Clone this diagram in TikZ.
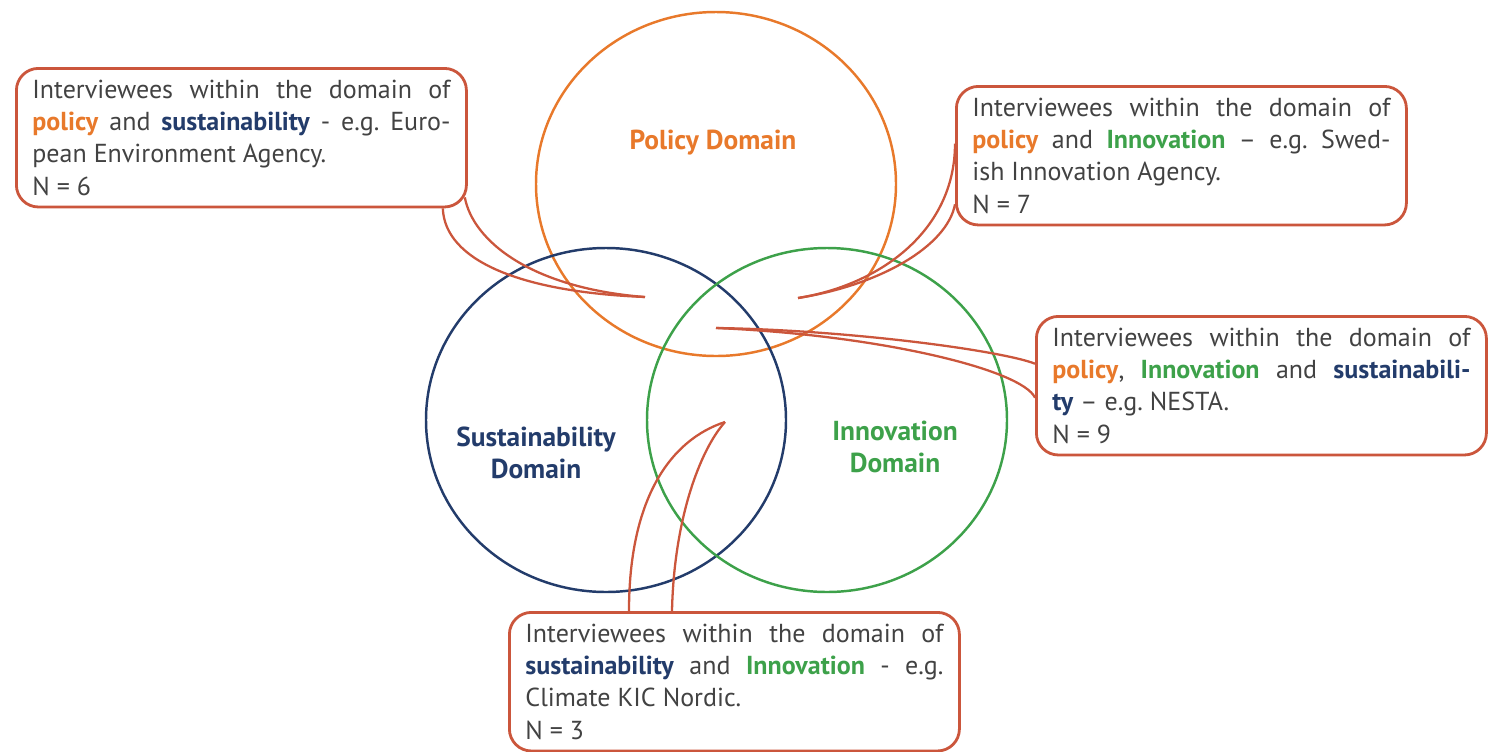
\documentclass[tikz,border=0pt]{standalone}
\usepackage{fontspec}
\setmainfont{PT Sans}
\usetikzlibrary{calc}
\frenchspacing

\definecolor{policyOrange}{RGB}{232,121,43}
\definecolor{sustNavy}{RGB}{35,60,107}
\definecolor{innovGreen}{RGB}{61,161,74}
\definecolor{calloutRed}{RGB}{203,86,60}
\definecolor{bodyGrey}{RGB}{66,66,66}

\newcommand{\polword}[1]{\textcolor{policyOrange}{\textbf{#1}}}
\newcommand{\susword}[1]{\textcolor{sustNavy}{\textbf{#1}}}
\newcommand{\innword}[1]{\textcolor{innovGreen}{\textbf{#1}}}

\tikzstyle{domainring}=[line width=1.4pt]
\tikzstyle{domainname}=[font=\fontsize{15.6}{18.2}\selectfont\bfseries, align=center]
\tikzstyle{callout}=[draw=calloutRed, line width=1.6pt, rounded corners=0.44cm, anchor=north west, text width=8.36cm, align=justify, inner xsep=0.32cm, inner ysep=6.5pt, text=bodyGrey, font=\fontsize{14.8}{18.4}\selectfont]
\tikzstyle{tail}=[draw=calloutRed, line width=1.3pt]

\begin{document}
\begin{tikzpicture}[x=0.2mm, y=-0.2mm]
	\useasboundingbox (0,0) rectangle (1498,751);

	% The three domains
	\draw[domainring, policyOrange] (716,184) ellipse [x radius=180, y radius=172];
	\draw[domainring, sustNavy]     (606,420) ellipse [x radius=180, y radius=172];
	\draw[domainring, innovGreen]   (827,420) ellipse [x radius=180, y radius=172];

	\node[domainname, text=policyOrange] (polName) at (713,143) {Policy Domain};
	\node[domainname, text=sustNavy]     (susName) at (536,453) {Sustainability\\Domain};
	\node[domainname, text=innovGreen]   (innName) at (895,447) {Innovation\\Domain};

	% Callouts
	\node[callout] (boxPS) at (15,67) {Interviewees within the domain of\linebreak
		\polword{policy} and \susword{sustainability} - e.g. Euro-\linebreak
		pean Environment Agency.\\ N = 6};
	\node[callout] (boxPI) at (955,85) {Interviewees within the domain of\linebreak
		\polword{policy} and \innword{Innovation} – e.g. Swed-\linebreak
		ish Innovation Agency.\\ N = 7};
	\node[callout] (boxPIS) at (1035,315) {Interviewees within the domain of\linebreak
		\polword{policy}, \innword{Innovation} and \susword{sustainabili-}\linebreak
		\susword{ty} – e.g. NESTA.\\ N = 9};
	\node[callout] (boxSI) at (508,611) {Interviewees within the domain of\linebreak
		\susword{sustainability} and \innword{Innovation} - e.g.\linebreak
		Climate KIC Nordic.\\ N = 3};

	% Where the tails point
	\coordinate (tipPS)  at (645,297);
	\coordinate (tipPI)  at (798,298);
	\coordinate (tipPIS) at (716,328);
	\coordinate (tipSI)  at (725,422);

	% Tails
	\draw[tail] ($(boxPS.south east)+(-25,0)$) .. controls +(2,52) and +(-125,-5) .. (tipPS);
	\draw[tail] ($(boxPS.south east)+(-3,-11)$) .. controls +(8,43) and +(-115,-9) .. (tipPS);

	\draw[tail] ($(boxPI.west)+(0,-12)$) .. controls +(0,87) and +(82,-13) .. (tipPI);
	\draw[tail] ($(boxPI.south west)+(0,-22)$) .. controls +(-8,42) and +(82,-13) .. (tipPI);

	\draw[tail] ($(boxPIS.west)+(0,-22)$) .. controls +(-33,-13) and +(134,2) .. (tipPIS);
	\draw[tail] ($(boxPIS.west)+(0,12)$) .. controls +(-13,-28) and +(164,7) .. (tipPIS);

	\draw[tail] ($(boxSI.north west)+(121,0)$) .. controls +(0,-112) and +(-55,18) .. (tipSI);
	\draw[tail] ($(boxSI.north west)+(164,0)$) .. controls +(2,-92) and +(-25,28) .. (tipSI);
\end{tikzpicture}
\end{document}
